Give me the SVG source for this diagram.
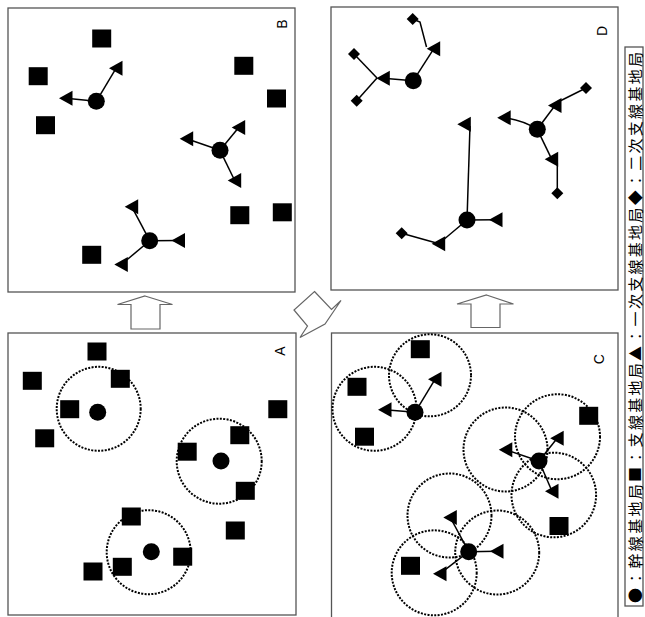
<svg xmlns="http://www.w3.org/2000/svg" xmlns:xlink="http://www.w3.org/1999/xlink" width="645" height="617" viewBox="0 0 645 617">
<style>
.frame{fill:#fff;stroke:#555;stroke-width:1.3}
.ln{stroke:#000;stroke-width:1.5;fill:none}
.dot{fill:none;stroke:#000;stroke-width:2;stroke-dasharray:2 1.4}
.lbl{font-family:"Liberation Sans",Arial,sans-serif;font-size:14px;fill:#000}
.arr{fill:#fff;stroke:#666;stroke-width:1.2;stroke-linejoin:miter}
.leg{font-family:"Noto Sans CJK JP","Noto Sans CJK SC",sans-serif;font-size:15px;fill:#000}
</style>
<defs>
<rect id="sq" x="-9.5" y="-9" width="19" height="18" fill="#000"/>
<path id="tri" d="M-7,0 L6.5,-7.5 L6.5,7.5Z" fill="#000"/>
<circle id="tr" r="8.5" fill="#000"/>
<path id="dia" d="M0,-6 L6,0 L0,6 L-6,0Z" fill="#000"/>
</defs>
<rect width="645" height="617" fill="#fff"/>

<g id="frames">
<rect class="frame" x="8" y="8" width="287" height="284"/>
<rect class="frame" x="331" y="7" width="287" height="283"/>
<rect class="frame" x="8" y="333" width="288" height="282"/>
<rect class="frame" x="331.5" y="333" width="286.5" height="290"/>
<rect class="frame" x="625" y="47" width="18" height="559"/>
</g>

<g id="arrows">
<path id="arrow-BA" class="arr" d="M145,296 L172.5,304.5 L160,304.5 L160,329 L131,329 L131,304.5 L117.5,304.5Z"/>
<path id="arrow-DC" class="arr" d="M486.5,295 L513.5,304 L500,304 L500,327.5 L471,327.5 L471,304 L457,304Z"/>
<path id="arrow-diag" class="arr" d="M314.5,291.5 L331.5,309.5 L341,300.5 L325,324 L300,337.5 L307.5,326 L294,310Z"/>
</g>

<g id="dotted-circles">
<circle class="dot" cx="98.7" cy="408.8" r="42"/>
<circle class="dot" cx="219.2" cy="461.2" r="42.5"/>
<circle class="dot" cx="148.7" cy="552.2" r="42"/>
<circle class="dot" cx="374.5" cy="408.8" r="42"/>
<circle class="dot" cx="430" cy="375.3" r="41"/>
<circle class="dot" cx="505.5" cy="449.5" r="42"/>
<circle class="dot" cx="557.5" cy="436.7" r="42.5"/>
<circle class="dot" cx="553.8" cy="495" r="42.3"/>
<circle class="dot" cx="449.5" cy="515.5" r="42"/>
<circle class="dot" cx="497.2" cy="552.5" r="42"/>
<circle class="dot" cx="434.2" cy="572.8" r="42.5"/>
</g>

<g id="connectors">
<!-- B -->
<line class="ln" x1="96.3" y1="101.3" x2="66" y2="98.3"/>
<line class="ln" x1="96.3" y1="101.3" x2="116" y2="68.3"/>
<line class="ln" x1="220" y1="150.3" x2="186.7" y2="138.8"/>
<line class="ln" x1="220" y1="150.3" x2="238.7" y2="127.5"/>
<line class="ln" x1="220" y1="150.3" x2="234.7" y2="180.5"/>
<line class="ln" x1="149.7" y1="240.7" x2="131.7" y2="206.7"/>
<line class="ln" x1="149.7" y1="240.7" x2="178.5" y2="240.5"/>
<line class="ln" x1="149.7" y1="240.7" x2="121.3" y2="264.5"/>
<!-- D -->
<line class="ln" x1="413.3" y1="80.7" x2="433.7" y2="48.8"/>
<polyline class="ln" points="426.5,47 420,22 412.7,19"/>
<line class="ln" x1="413.3" y1="80.7" x2="383.3" y2="78.3"/>
<line class="ln" x1="377" y1="78" x2="354" y2="54"/>
<line class="ln" x1="377" y1="78" x2="356.7" y2="100.7"/>
<line class="ln" x1="537.3" y1="129.3" x2="555" y2="105.5"/>
<line class="ln" x1="558" y1="102" x2="586" y2="88"/>
<path class="ln" d="M537.3,129.3 Q522,120 504.2,117.8"/>
<line class="ln" x1="537.3" y1="129.3" x2="551.7" y2="159.2"/>
<line class="ln" x1="557.3" y1="163" x2="557.3" y2="193.3"/>
<line class="ln" x1="467" y1="220" x2="470" y2="126"/>
<line class="ln" x1="467" y1="220" x2="496" y2="219.7"/>
<line class="ln" x1="467" y1="220" x2="438.7" y2="243.7"/>
<line class="ln" x1="440" y1="244" x2="401.7" y2="233.3"/>
<!-- C -->
<line class="ln" x1="415" y1="412.3" x2="385" y2="409.7"/>
<line class="ln" x1="415" y1="412.3" x2="435" y2="379.3"/>
<line class="ln" x1="539" y1="461" x2="505.8" y2="449.7"/>
<line class="ln" x1="539" y1="461" x2="557.2" y2="438.3"/>
<line class="ln" x1="539" y1="461" x2="552" y2="491.2"/>
<line class="ln" x1="468.7" y1="551.7" x2="450.3" y2="517.5"/>
<line class="ln" x1="468.7" y1="551.7" x2="497" y2="551.3"/>
<line class="ln" x1="468.7" y1="551.7" x2="440" y2="573.7"/>
</g>

<g id="panel-B">
<g id="B-sq1"><use href="#sq" x="101.7" y="38.5"/></g>
<g id="B-sq2"><use href="#sq" x="38.2" y="76.2"/></g>
<g id="B-sq3"><use href="#sq" x="45.5" y="125.2"/></g>
<g id="B-sq4"><use href="#sq" x="243.8" y="65.8"/></g>
<g id="B-sq5"><use href="#sq" x="276.5" y="98.5"/></g>
<g id="B-sq6"><use href="#sq" x="239.8" y="215.2"/></g>
<g id="B-sq7"><use href="#sq" x="282.3" y="212.3"/></g>
<g id="B-sq8"><use href="#sq" x="91.7" y="254.8"/></g>
<g id="B-tr1"><use href="#tr" x="96.3" y="101.3"/></g>
<g id="B-tr2"><use href="#tr" x="220" y="150.3"/></g>
<g id="B-tr3"><use href="#tr" x="149.7" y="240.7"/></g>
<g id="B-t1"><use href="#tri" x="66" y="98.3"/></g>
<g id="B-t2"><use href="#tri" x="116" y="68.3"/></g>
<g id="B-t3"><use href="#tri" x="186.7" y="138.8"/></g>
<g id="B-t4"><use href="#tri" x="238.7" y="127.5"/></g>
<g id="B-t5"><use href="#tri" x="234.7" y="180.5"/></g>
<g id="B-t6"><use href="#tri" x="131.7" y="206.7"/></g>
<g id="B-t7"><use href="#tri" x="178.5" y="240.5"/></g>
<g id="B-t8"><use href="#tri" x="121.3" y="264.5"/></g>
<text class="lbl" transform="translate(281.5,24) rotate(-90)" text-anchor="middle" dominant-baseline="central">B</text>
</g>

<g id="panel-D">
<g id="D-tr1"><use href="#tr" x="413.3" y="80.7"/></g>
<g id="D-tr2"><use href="#tr" x="537.3" y="129.3"/></g>
<g id="D-tr3"><use href="#tr" x="467" y="220"/></g>
<g id="D-t1"><use href="#tri" x="433.7" y="48.8"/></g>
<g id="D-t2"><use href="#tri" x="383.3" y="78.3"/></g>
<g id="D-t3"><use href="#tri" x="555" y="105.5"/></g>
<g id="D-t4"><use href="#tri" x="504.2" y="117.8"/></g>
<g id="D-t5"><use href="#tri" x="551.7" y="159.2"/></g>
<g id="D-t6"><use href="#tri" x="464.3" y="124.2"/></g>
<g id="D-t7"><use href="#tri" x="496" y="219.7"/></g>
<g id="D-t8"><use href="#tri" x="438.7" y="243.7"/></g>
<g id="D-d1"><use href="#dia" x="412.7" y="19"/></g>
<g id="D-d2"><use href="#dia" x="354" y="54"/></g>
<g id="D-d3"><use href="#dia" x="356.7" y="100.7"/></g>
<g id="D-d4"><use href="#dia" x="586" y="88"/></g>
<g id="D-d5"><use href="#dia" x="557.3" y="193.3"/></g>
<g id="D-d6"><use href="#dia" x="401.7" y="233.3"/></g>
<text class="lbl" transform="translate(601.7,31) rotate(-90)" text-anchor="middle" dominant-baseline="central">D</text>
</g>

<g id="panel-A">
<g id="A-sq1"><use href="#sq" x="97" y="351.5"/></g>
<g id="A-sq2"><use href="#sq" x="32.3" y="380.8"/></g>
<g id="A-sq3"><use href="#sq" x="120.3" y="378.8"/></g>
<g id="A-sq4"><use href="#sq" x="69.7" y="409.2"/></g>
<g id="A-sq5"><use href="#sq" x="44.7" y="438.3"/></g>
<g id="A-sq6"><use href="#sq" x="277.8" y="409.2"/></g>
<g id="A-sq7"><use href="#sq" x="187.2" y="451.7"/></g>
<g id="A-sq8"><use href="#sq" x="239.8" y="435.2"/></g>
<g id="A-sq9"><use href="#sq" x="245.3" y="490.8"/></g>
<g id="A-sq10"><use href="#sq" x="235.3" y="530.5"/></g>
<g id="A-sq11"><use href="#sq" x="131.3" y="516.5"/></g>
<g id="A-sq12"><use href="#sq" x="182.7" y="556.7"/></g>
<g id="A-sq13"><use href="#sq" x="122.3" y="566.8"/></g>
<g id="A-sq14"><use href="#sq" x="93" y="571.5"/></g>
<g id="A-tr1"><use href="#tr" x="97.7" y="412.3"/></g>
<g id="A-tr2"><use href="#tr" x="221" y="461"/></g>
<g id="A-tr3"><use href="#tr" x="151.3" y="551.7"/></g>
<text class="lbl" transform="translate(280,351) rotate(-90)" text-anchor="middle" dominant-baseline="central">A</text>
</g>

<g id="panel-C">
<g id="C-sq1"><use href="#sq" x="420.3" y="349.2"/></g>
<g id="C-sq2"><use href="#sq" x="357" y="386.8"/></g>
<g id="C-sq3"><use href="#sq" x="364.5" y="436.7"/></g>
<g id="C-sq4"><use href="#sq" x="588.7" y="415.8"/></g>
<g id="C-sq5"><use href="#sq" x="559" y="526"/></g>
<g id="C-sq6"><use href="#sq" x="410.5" y="565.8"/></g>
<g id="C-tr1"><use href="#tr" x="415" y="412.3"/></g>
<g id="C-tr2"><use href="#tr" x="539" y="461"/></g>
<g id="C-tr3"><use href="#tr" x="468.7" y="551.7"/></g>
<g id="C-t1"><use href="#tri" x="385" y="409.7"/></g>
<g id="C-t2"><use href="#tri" x="435" y="379.3"/></g>
<g id="C-t3"><use href="#tri" x="505.8" y="449.7"/></g>
<g id="C-t4"><use href="#tri" x="557.2" y="438.3"/></g>
<g id="C-t5"><use href="#tri" x="552" y="491.2"/></g>
<g id="C-t6"><use href="#tri" x="450.3" y="517.5"/></g>
<g id="C-t7"><use href="#tri" x="497" y="551.3"/></g>
<g id="C-t8"><use href="#tri" x="440" y="573.7"/></g>
<text class="lbl" transform="translate(599.3,359.3) rotate(-90)" text-anchor="middle" dominant-baseline="central">C</text>
</g>

<g id="legend">
<text class="leg" transform="translate(634.5,603) rotate(-90)" dominant-baseline="central" textLength="551" lengthAdjust="spacing">●：幹線基地局■：支線基地局▲：一次支線基地局◆：二次支線基地局</text>
</g>
</svg>
